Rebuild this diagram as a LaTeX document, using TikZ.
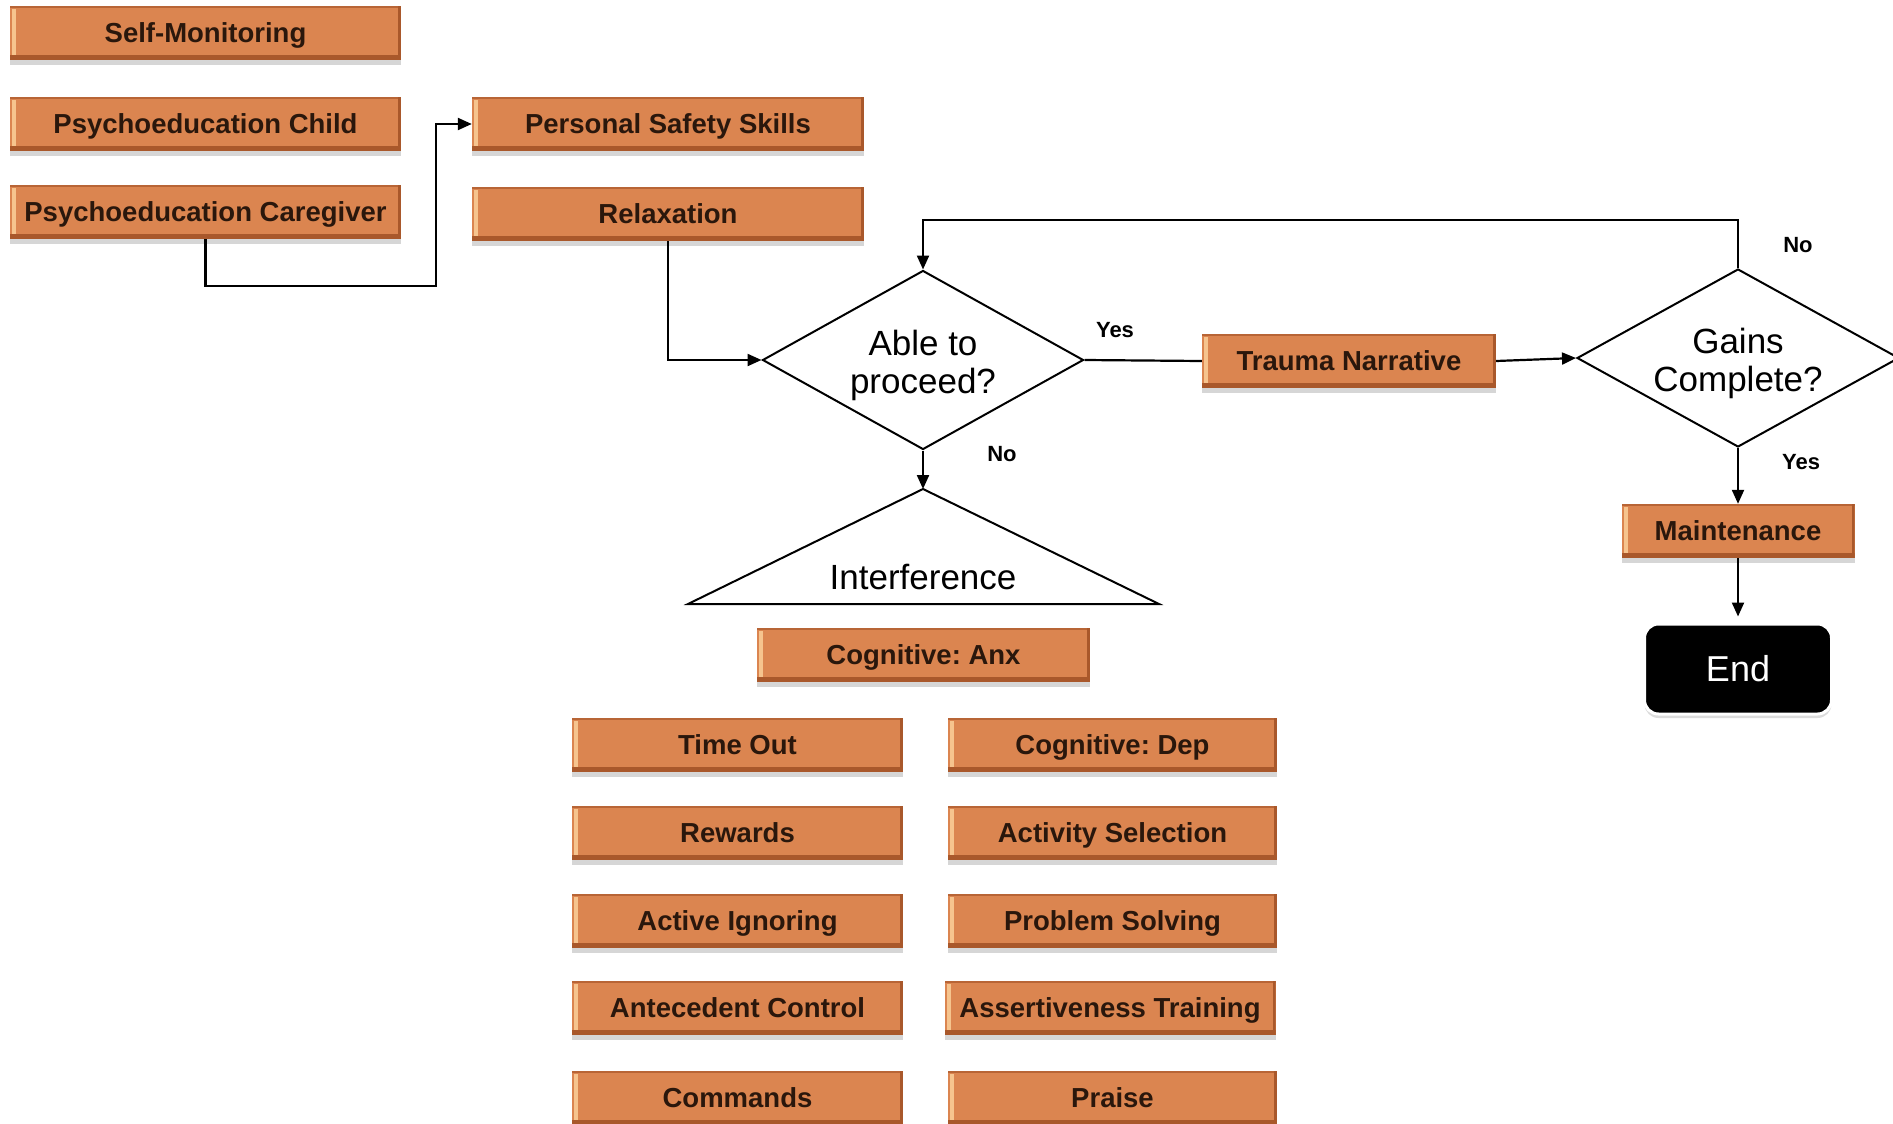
\documentclass[tikz,border=0pt]{standalone}
\usepackage{fontspec}
\setmainfont{Liberation Sans}
\usetikzlibrary{shapes.geometric,arrows.meta,shadows}
\frenchspacing

\definecolor{boxorange}{HTML}{DB8550}
\definecolor{boxdark}{HTML}{A9582B}
\definecolor{boxlight}{HTML}{F6C48E}
\definecolor{boxtext}{HTML}{2A170C}
\definecolor{edgegray}{HTML}{9A9A9A}

\tikzset{
  tbox/.style={
    rectangle, fill=boxorange, text=boxtext, inner sep=2pt,
    font=\bfseries\fontsize{27.5}{30}\selectfont,
    text height=19pt, text depth=0pt,
    minimum height=54pt,
    drop shadow={shadow xshift=0pt, shadow yshift=-5pt, opacity=.4, fill=edgegray},
    path picture={
      % bevelled edges of the orange bar
      \fill[boxdark] ([yshift=5pt]path picture bounding box.south west)
        rectangle (path picture bounding box.south east);
      \fill[boxdark!70!boxorange] (path picture bounding box.north west)
        rectangle ([yshift=-2pt]path picture bounding box.north east);
      \fill[boxdark] ([xshift=-3pt]path picture bounding box.north east)
        rectangle (path picture bounding box.south east);
      \fill[boxlight] ([xshift=2pt,yshift=-3pt]path picture bounding box.north west)
        rectangle ([xshift=6pt,yshift=5pt]path picture bounding box.south west);
    }},
  decision/.style={
    diamond, aspect=1.8, draw=black, line width=2pt, fill=white, inner sep=0pt},
  dtext/.style={align=center, font=\fontsize{35}{38}\selectfont},
  flow/.style={line width=2.2pt, draw=black},
  arr/.style={flow, -{Triangle[length=14pt,width=12pt]}},
  lbl/.style={font=\bfseries\fontsize{22}{24}\selectfont, text=black},
}

\begin{document}
\begin{tikzpicture}[x=1pt,y=-1pt]
  \fill[white] (0,0) rectangle (1893,1124);
  \useasboundingbox (0,0) rectangle (1893,1124);

  % left column of starting modules
  \node[tbox, minimum width=391pt] (selfmon) at (205.5,33) {Self-Monitoring};
  \node[tbox, minimum width=391pt] (psychchild) at (205.5,124) {Psychoeducation Child};
  \node[tbox, minimum width=391pt] (psychcare) at (205.5,212) {Psychoeducation Caregiver};

  % second column
  \node[tbox, minimum width=392pt] (safety) at (668,124) {Personal Safety Skills};
  \node[tbox, minimum width=392pt] (relax) at (668,214) {Relaxation};

  % first decision
  \node[decision, minimum width=321pt, minimum height=179pt] (able) at (923,360) {};
  \node[dtext] (abletext) at ([yshift=-5pt]able.center) {Able to\\proceed?};

  % interference triangle
  \coordinate (apex) at (923,489);
  \coordinate (triL) at (688,604);
  \coordinate (triR) at (1159,604);
  \draw[line width=2pt, fill=white] (apex) -- (triR) -- (triL) -- cycle;
  \node[font=\fontsize{35}{38}\selectfont] (interf) at (923,577) {Interference};

  \node[tbox, minimum width=333pt] (anx) at (923.5,654.5) {Cognitive: Anx};

  % interference modules
  \node[tbox, minimum width=331pt] (timeout) at (737.5,745) {Time Out};
  \node[tbox, minimum width=331pt] (rewards) at (737.5,833) {Rewards};
  \node[tbox, minimum width=331pt] (ignoring) at (737.5,921) {Active Ignoring};
  \node[tbox, minimum width=331pt] (antecedent) at (737.5,1008) {Antecedent Control};
  \node[tbox, minimum width=331pt] (commands) at (737.5,1098) {Commands};

  \node[tbox, minimum width=329pt] (dep) at (1112.5,745) {Cognitive: Dep};
  \node[tbox, minimum width=329pt] (activity) at (1112.5,833) {Activity Selection};
  \node[tbox, minimum width=329pt] (problem) at (1112.5,921) {Problem Solving};
  \node[tbox, minimum width=331pt] (assert) at (1110,1008) {Assertiveness Training};
  \node[tbox, minimum width=329pt] (praise) at (1112.5,1098) {Praise};

  % main path
  \node[tbox, minimum width=294pt] (trauma) at (1349,361) {Trauma Narrative};
  \node[decision, minimum width=322pt, minimum height=178pt] (gains) at (1738,358) {};
  \node[dtext] (gainstext) at ([yshift=-5pt]gains.center) {Gains\\Complete?};
  \node[tbox, minimum width=233pt] (maint) at (1738,531) {Maintenance};
  \node[rectangle, rounded corners=14pt, fill=black, draw=white, line width=3pt,
        minimum width=187pt, minimum height=90pt, text=white,
        font=\fontsize{36}{40}\selectfont,
        drop shadow={shadow xshift=0pt, shadow yshift=-4pt, opacity=.35, fill=edgegray}]
        (endnode) at (1738,669) {End};

  % connectors
  \draw[arr] (psychcare.south) |- (436,286) |- (safety.west);
  \draw[arr] (relax.south) |- (able.west);
  \draw[arr] (able.south) -- (apex);
  \draw[flow] (able.east) -- (trauma.west);
  \draw[arr] (trauma.east) -- (gains.west);
  \draw[arr] (gains.north) |- (923,220) -- (able.north);
  \draw[arr] (gains.south) -- (maint.north);
  \draw[arr] (maint.south) -- ([yshift=6pt]endnode.north);

  % branch labels
  \node[lbl] (yesA) at (1115,330) {Yes};
  \node[lbl] (noA) at (1002,454) {No};
  \node[lbl] (noG) at (1798,245) {No};
  \node[lbl] (yesG) at (1801,462) {Yes};
\end{tikzpicture}
\end{document}
